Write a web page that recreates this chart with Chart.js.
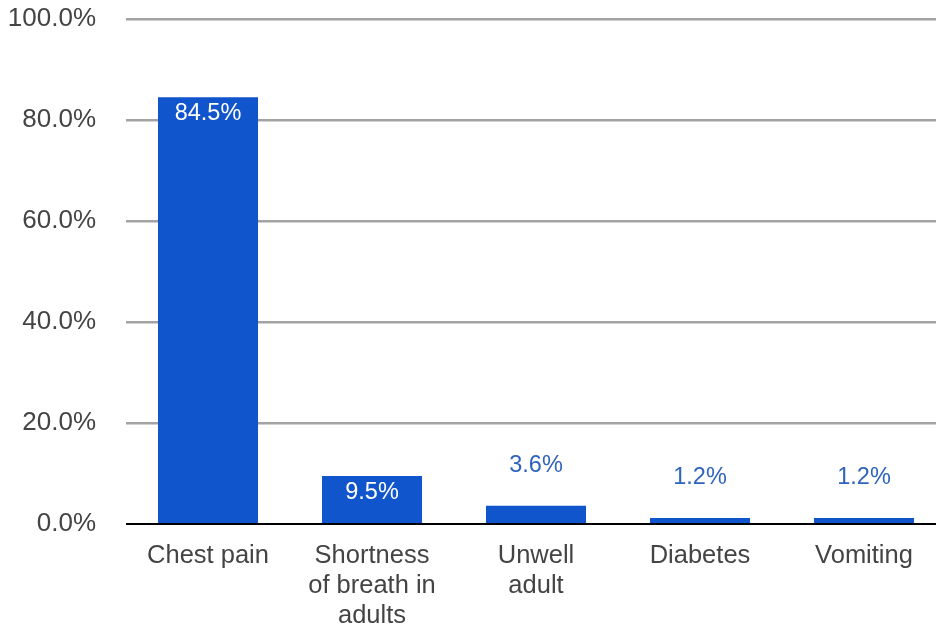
<!DOCTYPE html>
<html lang="en">
<head>
    <meta charset="UTF-8">
    <title>Presenting complaints</title>
    <style>
        html, body {
            margin: 0;
            padding: 0;
            background: #ffffff;
            overflow: hidden;
        }
        #wrap {
            width: 946px;
            height: 630px;
        }
    </style>
</head>
<body>
    <div id="wrap"><canvas id="grafico"></canvas></div>

    <script src="https://cdn.jsdelivr.net/npm/chart.js"></script>
    <script>
        const categorias = [
            'Chest pain',
            ['Shortness', 'of breath in', 'adults'],
            ['Unwell', 'adult'],
            'Diabetes',
            'Vomiting'
        ];
        const percentuais = [84.5, 9.5, 3.6, 1.2, 1.2];
        const rotulos = ['84.5%', '9.5%', '3.6%', '1.2%', '1.2%'];
        const ticksY = [0, 20, 40, 60, 80, 100];

        const fonte = '"Liberation Sans", Arial, sans-serif';

        // value labels: white inside the tall bars, blue above the short ones
        const rotulosPlugin = {
            id: 'rotulos',
            afterDatasetsDraw(chart) {
                const ctx = chart.ctx;
                const meta = chart.getDatasetMeta(0);
                ctx.save();
                ctx.font = '23.5px ' + fonte;
                ctx.textAlign = 'center';
                ctx.textBaseline = 'middle';
                meta.data.forEach((bar, i) => {
                    const altura = bar.base - bar.y;
                    if (altura > 35) {
                        ctx.fillStyle = '#ffffff';
                        ctx.fillText(rotulos[i], bar.x, bar.y + 16);
                    } else {
                        ctx.fillStyle = '#2f63bd';
                        ctx.fillText(rotulos[i], bar.x, bar.y - 40);
                    }
                });
                ctx.restore();
            }
        };

        new Chart(document.getElementById('grafico'), {
            type: 'bar',
            data: {
                labels: categorias,
                datasets: [{
                    data: percentuais,
                    backgroundColor: '#1155cc',
                    borderWidth: 0,
                    categoryPercentage: 1,
                    barPercentage: 0.61
                }]
            },
            options: {
                responsive: true,
                maintainAspectRatio: false,
                animation: false,
                layout: { padding: { top: 19, right: 0, left: 0, bottom: 0 } },
                plugins: {
                    legend: { display: false },
                    tooltip: { enabled: false }
                },
                scales: {
                    x: {
                        grid: { display: false, drawTicks: false },
                        border: { display: false },
                        ticks: {
                            color: '#444444',
                            font: { family: fonte, size: 25.5, lineHeight: 1.18 },
                            padding: 17,
                            maxRotation: 0,
                            autoSkip: false
                        },
                        afterFit(scale) { scale.height = 106; }
                    },
                    y: {
                        min: 0,
                        max: 100,
                        afterBuildTicks(scale) {
                            scale.ticks = ticksY.map(v => ({ value: v }));
                        },
                        grid: {
                            drawTicks: false,
                            color: ctx => ctx.tick.value === 0 ? '#000000' : '#a3a3a3',
                            lineWidth: ctx => ctx.tick.value === 0 ? 2 : 2.5
                        },
                        border: { display: false },
                        ticks: {
                            color: '#444444',
                            font: { family: fonte, size: 26 },
                            padding: 30,
                            callback: v => v.toFixed(1) + '%'
                        },
                        afterFit(scale) {
                            scale.width = 126;
                            scale.paddingTop = 0;
                            scale.paddingBottom = 0;
                        }
                    }
                }
            },
            plugins: [rotulosPlugin]
        });
    </script>
</body>
</html>
